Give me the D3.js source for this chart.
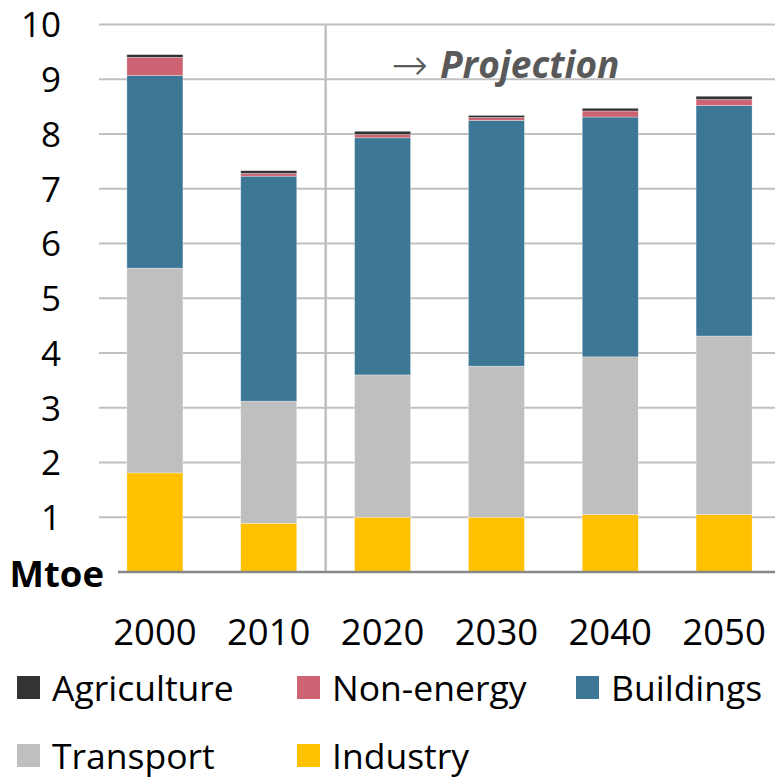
<!DOCTYPE html>
<head>
<meta charset="utf-8">
<title>Energy demand by sector</title>
<script type="text/javascript" src="https://d3js.org/d3.v7.min.js"></script>
<style>
  body { margin: 0; background: #fff; }
  text { font-family: "Open Sans", "Noto Sans", sans-serif; }
</style>
</head>

<body>
<div id="container"></div>
<script>

// data (Mtoe)
const years = ["2000", "2010", "2020", "2030", "2040", "2050"]
const sectors = ["Industry", "Transport", "Buildings", "Non-energy", "Agriculture"]
const industry    = [1.81, 0.89, 1.00, 1.00, 1.05, 1.05]
const transport   = [3.74, 2.23, 2.60, 2.76, 2.88, 3.26]
const buildings   = [3.52, 4.11, 4.33, 4.49, 4.38, 4.21]
const nonEnergy   = [0.33, 0.05, 0.06, 0.05, 0.11, 0.11]
const agriculture = [0.05, 0.05, 0.06, 0.04, 0.05, 0.06]
const yTicks = [1, 2, 3, 4, 5, 6, 7, 8, 9, 10]
const legendRows = [["Agriculture", "Non-energy", "Buildings"], ["Transport", "Industry"]]

const colours = {
  "Industry": "#ffc000",
  "Transport": "#bfbfbf",
  "Buildings": "#3d7796",
  "Non-energy": "#cd6373",
  "Agriculture": "#333333"
}

const width = 775, height = 780
const svg = d3.select("div#container").append("svg")
    .attr("width", width).attr("height", height)

const rows = years.map((y, i) => ({
  year: y,
  "Industry": industry[i], "Transport": transport[i], "Buildings": buildings[i],
  "Non-energy": nonEnergy[i], "Agriculture": agriculture[i]
}))

const xScale = d3.scaleBand().domain(years).range([98, 781])
    .paddingInner(0.508).paddingOuter(0.254)
const yScale = d3.scaleLinear().domain([0, 10]).range([572, 24.5])

// grid
svg.append("g").selectAll("line").data(yTicks).join("line")
    .attr("x1", 99).attr("x2", width)
    .attr("y1", d => yScale(d)).attr("y2", d => yScale(d))
    .attr("stroke", "#c0c0c0").attr("stroke-width", 2)

// stacked bars
const stack = d3.stack().keys(sectors)(rows)
svg.append("g").selectAll("g").data(stack).join("g")
    .attr("fill", d => colours[d.key])
  .selectAll("rect").data(d => d).join("rect")
    .attr("x", d => xScale(d.data.year))
    .attr("width", xScale.bandwidth())
    .attr("y", d => yScale(d[1]))
    .attr("height", d => yScale(d[0]) - yScale(d[1]))
    .attr("stroke", "#fff").attr("stroke-width", 0.6).attr("stroke-opacity", 0.5)

// projection divider
const gap = xScale.step() - xScale.bandwidth()
const xDiv = xScale("2020") - gap / 2
svg.append("line")
    .attr("x1", xDiv).attr("x2", xDiv)
    .attr("y1", yScale(10) - 1).attr("y2", yScale(0))
    .attr("stroke", "#c0c0c0").attr("stroke-width", 2.5)

// baseline
svg.append("line")
    .attr("x1", 118).attr("x2", width)
    .attr("y1", yScale(0)).attr("y2", yScale(0))
    .attr("stroke", "#888").attr("stroke-width", 2.5)

// y labels
svg.append("g").selectAll("text").data(yTicks).join("text")
    .attr("x", 61).attr("y", d => yScale(d)).attr("dy", "0.37em")
    .attr("text-anchor", "end").attr("font-size", 35).attr("fill", "#000")
    .text(d => d)
svg.append("text")
    .attr("x", 104).attr("y", 587)
    .attr("text-anchor", "end").attr("font-size", 36.5).attr("font-weight", "bold")
    .text("Mtoe")

// x labels
svg.append("g").selectAll("text").data(years).join("text")
    .attr("x", d => xScale(d) + xScale.bandwidth() / 2).attr("y", 645)
    .attr("text-anchor", "middle").attr("font-size", 36.5)
    .text(d => d)

// projection note
svg.append("text")
    .attr("x", 391).attr("y", 80)
    .attr("font-size", 44).attr("fill", "#595959")
    .style("font-family", "'DejaVu Sans'").style("font-weight", 200)
    .text("→")
svg.append("text")
    .attr("x", 440).attr("y", 78)
    .attr("font-size", 37).attr("fill", "#595959")
    .attr("font-weight", "bold").attr("font-style", "italic")
    .text("Projection")

// legend
const colX = [17, 297, 576]
const rowY = [676, 744]
legendRows.forEach((row, r) => {
  const g = svg.append("g")
  g.selectAll("rect").data(row).join("rect")
      .attr("x", (d, i) => colX[i]).attr("y", rowY[r])
      .attr("width", 23).attr("height", 23)
      .attr("fill", d => colours[d])
  g.selectAll("text").data(row).join("text")
      .attr("x", (d, i) => colX[i] + 35).attr("y", rowY[r] + 25)
      .attr("font-size", 35.5)
      .text(d => d)
})

</script>
</body>
